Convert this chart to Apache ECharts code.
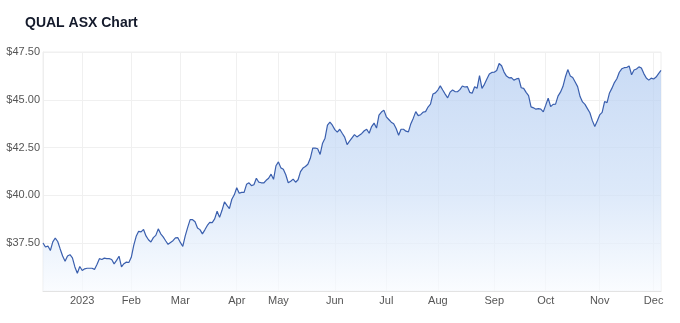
<!DOCTYPE html>
<html>
<head>
<meta charset="utf-8">
<script src="https://cdn.jsdelivr.net/npm/echarts@6/dist/echarts.min.js"></script>
<style>
html,body{margin:0;padding:0;background:#fff;}
#chart{width:680px;height:323px;}
</style>
</head>
<body>
<div id="chart"></div>
<script>
// Closing prices (AUD), one per ASX trading day, 7 Dec 2022 – 6 Dec 2023
const prices = [
 37.51,37.30,37.35,37.12,37.57,37.77,37.59,37.20,36.83,36.55,
 36.83,36.90,36.73,36.26,35.93,36.28,36.07,36.16,36.19,36.19,
 36.19,36.13,36.39,36.69,36.65,36.72,36.69,36.69,36.65,36.42,
 36.60,36.82,36.26,36.43,36.51,36.49,36.76,37.39,37.86,38.12,
 38.09,38.22,37.88,37.68,37.56,37.79,37.91,38.25,37.99,37.83,
 37.63,37.44,37.54,37.63,37.78,37.79,37.54,37.33,37.88,38.33,
 38.73,38.73,38.62,38.30,38.21,37.99,38.20,38.43,38.59,38.58,
 38.77,39.17,38.85,39.22,39.66,39.48,39.31,39.80,40.03,40.40,
 40.11,40.16,40.16,40.58,40.66,40.51,40.56,40.90,40.69,40.66,
 40.65,40.79,40.90,41.11,40.84,41.55,41.75,41.44,41.37,41.08,
 40.66,40.74,40.85,40.69,40.82,41.24,41.43,41.51,41.63,41.94,
 42.47,42.48,42.44,42.14,42.73,42.99,43.67,43.83,43.67,43.44,
 43.31,43.46,43.25,43.05,42.66,42.84,43.01,43.18,43.06,43.15,
 43.24,43.38,43.46,43.25,43.60,43.78,43.52,44.20,44.36,44.46,
 44.11,43.97,43.83,43.75,43.50,43.15,43.46,43.46,43.36,43.32,
 43.75,44.04,44.38,44.17,44.22,44.36,44.38,44.62,44.77,45.30,
 45.36,45.51,45.73,45.51,45.30,45.10,45.40,45.51,45.43,45.42,
 45.53,45.72,45.67,45.69,45.39,45.34,45.68,45.60,46.26,45.60,
 45.81,46.09,46.35,46.43,46.44,46.53,46.90,46.78,46.45,46.24,
 46.15,46.16,46.03,46.09,46.12,45.63,45.60,45.39,45.22,44.63,
 44.58,44.51,44.54,44.51,44.37,44.72,45.09,44.64,44.76,44.77,
 45.19,45.40,45.69,46.19,46.58,46.25,46.17,45.93,45.69,45.17,
 44.89,44.76,44.54,44.32,43.91,43.60,43.89,44.21,44.34,44.91,
 44.85,45.36,45.61,45.90,46.10,46.44,46.62,46.68,46.69,46.77,
 46.31,46.56,46.61,46.72,46.66,46.37,46.14,46.03,46.13,46.09,
 46.19,46.37,46.54
];

// ASX non-trading weekdays in the period
const holidays = ['2022-12-26','2022-12-27','2023-01-02','2023-01-26',
  '2023-04-07','2023-04-10','2023-04-25','2023-06-12'];
const startDate = '2022-12-07';

// Month tick labels (Jan..Dec 2023)
const monthLabels = ['2023','Feb','Mar','Apr','May','Jun','Jul','Aug','Sep','Oct','Nov','Dec'];

// Y axis tick settings
const yMin = 35, yMax = 47.5, yStep = 2.5;

// Build trading-day categories
const dates = [];
(function(){
  let d = new Date(startDate + 'T00:00:00Z');
  while (dates.length < prices.length) {
    const s = d.toISOString().slice(0,10);
    const wd = d.getUTCDay();
    if (wd !== 0 && wd !== 6 && holidays.indexOf(s) < 0) dates.push(s);
    d = new Date(d.getTime() + 86400000);
  }
})();

function isMonthStart(idx){
  return idx > 0 && dates[idx].slice(0,7) !== dates[idx-1].slice(0,7);
}

const chart = echarts.init(document.getElementById('chart'), null, {renderer:'canvas'});
chart.setOption({
  animation: false,
  backgroundColor: '#ffffff',
  title: {
    text: 'QUAL ASX Chart',
    left: 20, top: 11,
    textStyle: {fontFamily:'Liberation Sans, Arial, sans-serif', fontSize: 14, fontWeight: 'bold', color: '#141a2b'}
  },
  grid: {left: 43, right: 19, top: 52, bottom: 32, show: true, borderColor: '#eeeeee', borderWidth: 1},
  xAxis: {
    type: 'category',
    data: dates,
    boundaryGap: false,
    axisLine: {show: true, lineStyle: {color: '#e3e3e3'}},
    axisTick: {show: false},
    axisLabel: {
      interval: function(idx){ return isMonthStart(idx); },
      formatter: function(v){ return monthLabels[parseInt(v.slice(5,7),10)-1]; },
      color: '#555', fontSize: 11, fontFamily: 'Liberation Sans, Arial, sans-serif', margin: 4
    },
    splitLine: {show: true, interval: function(idx){ return isMonthStart(idx); }, lineStyle: {color: '#f0f0f0', width: 1}}
  },
  yAxis: {
    type: 'value',
    min: yMin, max: yMax, interval: yStep,
    axisLine: {show: true, lineStyle: {color: '#eeeeee'}},
    axisTick: {show: false},
    axisLabel: {
      showMinLabel: false,
      formatter: function(v){ return '$' + v.toFixed(2); },
      color: '#555', fontSize: 11, fontFamily: 'Liberation Sans, Arial, sans-serif', margin: 3
    },
    splitLine: {show: true, lineStyle: {color: '#f0f0f0', width: 1}}
  },
  series: [{
    type: 'line',
    data: prices,
    symbol: 'none',
    smooth: false,
    lineStyle: {color: '#3a5fae', width: 1.2},
    areaStyle: {
      color: new echarts.graphic.LinearGradient(0, 0, 0, 1, [
        {offset: 0, color: '#b3ccf1'},
        {offset: 0.55, color: '#cddff7'},
        {offset: 1, color: '#f8fbff'}
      ])
    }
  }]
});
</script>
</body>
</html>
